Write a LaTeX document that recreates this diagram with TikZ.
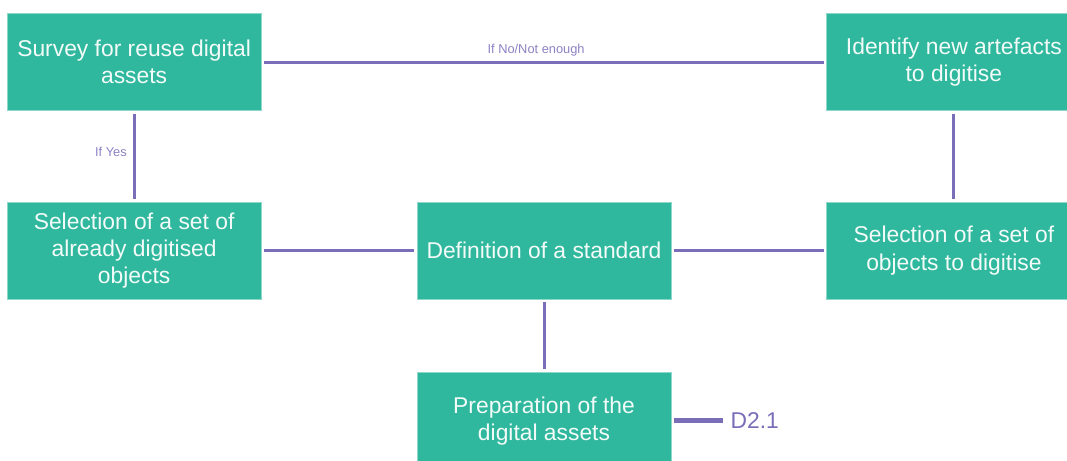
\documentclass[tikz,border=0pt]{standalone}
\usepackage{fontspec}
\setmainfont{Liberation Sans}
\usepackage{xcolor}
\usepackage{tikz}
\usetikzlibrary{positioning}

\definecolor{boxteal}{RGB}{47,184,157}
\definecolor{linkpurple}{RGB}{122,110,185}
\definecolor{labelpurple}{RGB}{140,130,195}

\begin{document}
\begin{tikzpicture}[
  node distance=1.81cm and 3.1cm,
  every node/.style={font=\fontsize{13}{15.5}\selectfont},
  stepbox/.style={fill=boxteal, draw=boxteal!55!white, line width=0.5pt, text=white!94!boxteal,
    minimum width=5.08cm, minimum height=1.94cm, align=center, inner sep=2pt},
  link/.style={linkpurple, line width=1.7pt, shorten <=0.05cm, shorten >=0.05cm},
  cond/.style={text=labelpurple, font=\fontsize{7.3}{8.5}\selectfont},
]
\useasboundingbox (0,0) rectangle (21.34,-9.22);
\clip (0,0) rectangle (21.34,-9.22);

% Central step
\node[stepbox] (def) at (10.88,-5.01) {Definition of a standard};

% Middle row
\node[stepbox, left=of def] (selold) {Selection of a set of\\already digitised\\objects};
\node[stepbox, right=of def] (selnew) {Selection of a set of\\objects to digitise};

% Top row
\node[stepbox, above=of selold] (survey) {Survey for reuse digital\\assets};
\node[stepbox, above=of selnew] (identify) {Identify new artefacts\\to digitise};

% Bottom step and deliverable
\node[stepbox, below=1.45cm of def] (prep) {Preparation of the\\digital assets};
\node[right=1.14cm of prep, text=linkpurple, inner sep=1pt] (deliv) {D2.1};

% Links
\draw[link] (survey) -- node[cond, above=-1pt, pos=0.486] {If No/Not enough} (identify);
\draw[link] (survey) -- node[cond, left=0pt, pos=0.45] {If Yes} (selold);
\draw[link] (identify) -- (selnew);
\draw[link] (selold) -- (def);
\draw[link] (def) -- (selnew);
\draw[link] (def) -- (prep);
\draw[link, line width=2.8pt, shorten >=0.1cm] (prep) -- (deliv);
\end{tikzpicture}
\end{document}
